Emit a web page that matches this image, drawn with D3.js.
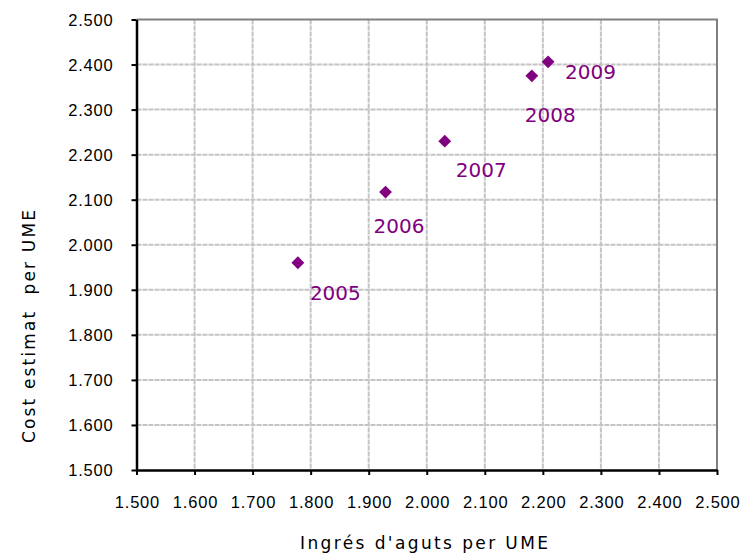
<!DOCTYPE html>
<html><head><meta charset="utf-8">
<script src="https://cdn.jsdelivr.net/npm/d3@7"></script>
<style>body{margin:0;background:#fff}</style>
</head><body>
<svg id="c" width="747" height="554"></svg>
<script>
const years = ["2005","2006","2007","2008","2009"];
const ingres = [1778, 1929, 2031, 2181, 2209];
const cost = [1960, 2117, 2230, 2375, 2406];
const xTicks = [1500,1600,1700,1800,1900,2000,2100,2200,2300,2400,2500];
const yTicks = [1500,1600,1700,1800,1900,2000,2100,2200,2300,2400,2500];
const xTitle = "Ingrés d'aguts per UME";
const yTitle = "Cost estimat  per UME";
// label offsets (px) relative to the marker
const labelDx = [12, -12, 11, -7, 17];
const labelDy = [30, 34, 29, 39, 10];

const svg = d3.select("#c");
const L = 136.5, R = 717, T = 19.5, B = 470;
const x = d3.scaleLinear().domain([1500,2500]).range([L,R]);
const y = d3.scaleLinear().domain([1500,2500]).range([B,T]);
const fmt = d => String(d).replace(/^(\d)(\d{3})$/, "$1.$2");

// gridlines
const g = svg.append("g");
g.selectAll("line.vx").data(xTicks.slice(1,-1)).join("line")
  .attr("x1", d=>x(d)).attr("x2", d=>x(d)).attr("y1", T).attr("y2", B)
  .attr("stroke", "#c4c4c4").attr("stroke-width", 2).attr("stroke-dasharray", "5,1");
g.selectAll("line.hy").data(yTicks.slice(1,-1)).join("line")
  .attr("x1", L).attr("x2", R).attr("y1", d=>y(d)).attr("y2", d=>y(d))
  .attr("stroke", "#c4c4c4").attr("stroke-width", 2).attr("stroke-dasharray", "5,1");
// gray top/right border
svg.append("path").attr("d", `M${L},${T}H${R}V${B}`).attr("fill","none")
  .attr("stroke","#808080").attr("stroke-width",2);

// axes
const xAxis = svg.append("g").attr("transform", `translate(0,${B})`)
  .call(d3.axisBottom(x).tickValues(xTicks).tickFormat(fmt).tickSize(5).tickSizeOuter(0));
const yAxis = svg.append("g").attr("transform", `translate(${L},0)`)
  .call(d3.axisLeft(y).tickValues(yTicks).tickFormat(fmt).tickSize(5).tickSizeOuter(0));
[xAxis, yAxis].forEach(a => {
  a.select(".domain").attr("stroke","#000").attr("stroke-width",2.5);
  a.selectAll(".tick line").attr("stroke","#000").attr("stroke-width",2);
  a.selectAll("text").attr("font-family","'Liberation Sans', Arial, sans-serif")
    .attr("font-size", 16.5).attr("letter-spacing", "0.8px").attr("fill","#000");
});
xAxis.selectAll("text").attr("dy", "0").attr("y", 38).attr("dx", "0.4px");
yAxis.selectAll("text").attr("x", -23).attr("dy","0.35em");

// titles
svg.append("text").attr("x", 300).attr("y", 549)
  .attr("font-family","'DejaVu Sans', Verdana, sans-serif").attr("font-size",17).attr("fill","#000")
  .attr("textLength", 248).attr("lengthAdjust","spacing").text(xTitle);
svg.append("text").attr("transform","translate(35,443) rotate(-90)")
  .attr("font-family","'DejaVu Sans', Verdana, sans-serif").attr("font-size",17).attr("fill","#000")
  .attr("textLength", 233).attr("lengthAdjust","spacing")
  .attr("xml:space","preserve").style("white-space","pre").text(yTitle);

// points
const sym = d3.symbol().type(d3.symbolSquare).size(82);
svg.selectAll("path.pt").data(years).join("path")
  .attr("d", sym())
  .attr("transform", (d,i)=>`translate(${x(ingres[i])},${y(cost[i])}) rotate(45)`)
  .attr("fill","#800080");
svg.selectAll("text.lbl").data(years).join("text")
  .attr("x", (d,i)=>x(ingres[i]) + labelDx[i])
  .attr("y", (d,i)=>y(cost[i]) + labelDy[i])
  .attr("dy","0.36em")
  .attr("font-family","'DejaVu Sans', Verdana, sans-serif").attr("font-size",20)
  .attr("fill","#800080").text(d=>d);
</script>
</body></html>
